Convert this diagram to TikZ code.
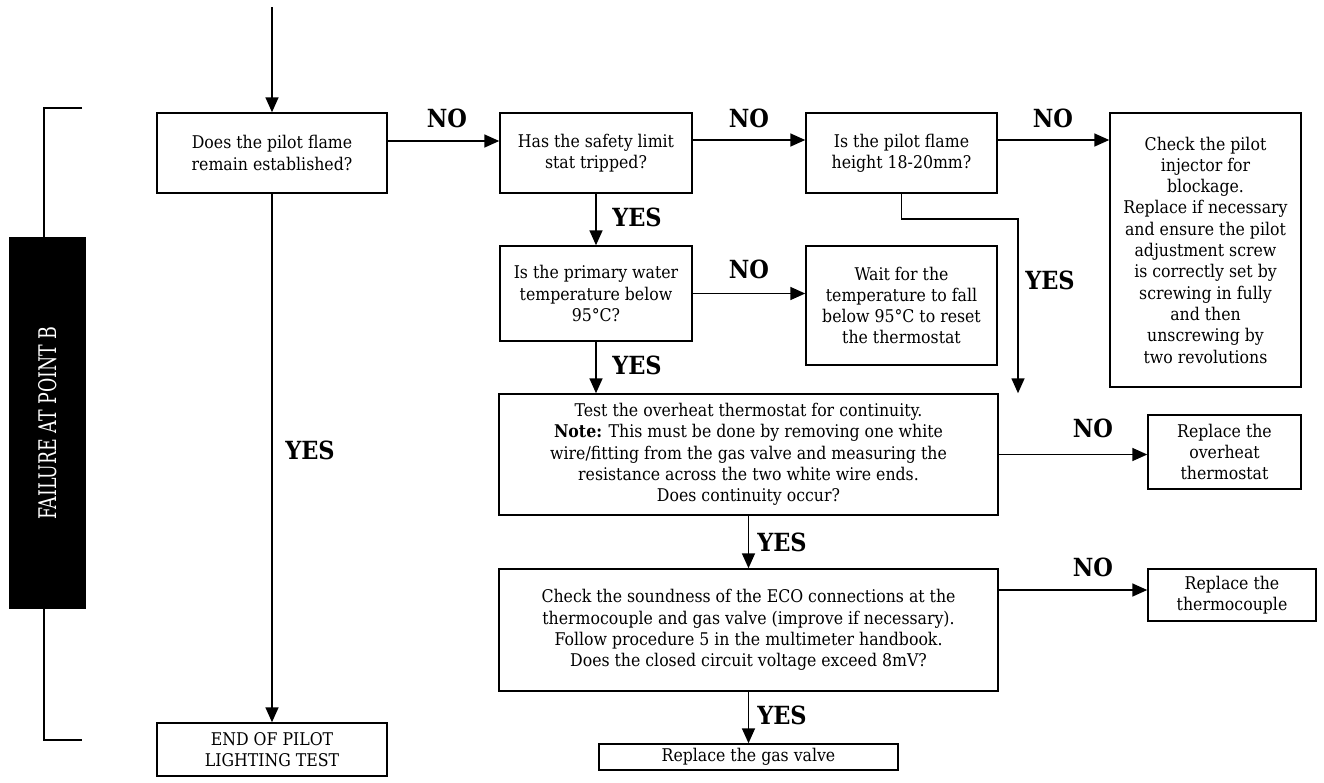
\documentclass[tikz,border=0pt]{standalone}
\usepackage{fontspec}
\setmainfont{DejaVu Serif Condensed}
\usetikzlibrary{arrows.meta}
\newcommand\bodyfs{\fontsize{17.5}{21.3}\selectfont}
\newcommand\lblfs{\fontsize{25}{28}\selectfont\bfseries}
\begin{document}
\begin{tikzpicture}[x=1pt,y=-1pt,
  box/.style={draw, line width=1.5pt, align=center, inner sep=0pt, font=\bodyfs},
  arr/.style={line width=1.7pt, -{Triangle[length=15pt,width=13pt]}},
  lbl/.style={font=\lblfs, inner sep=0pt}]
\useasboundingbox (0,0) rectangle (1324,782);

% bracket and side label
\coordinate (bt) at (82,108);
\coordinate (bb) at (82,740);
\draw[line width=1.5pt] (bt) -- (44,108) -- (44,740) -- (bb);
\node[fill=black, minimum width=77pt, minimum height=372pt, inner sep=0pt] (side) at (47.5,423)
  {\rotatebox{90}{\resizebox{193pt}{18pt}{\color{white}FAILURE AT POINT B}}};

% boxes
\node[box, minimum width=230pt, minimum height=80pt] (A) at (272,153) {Does the pilot flame\\remain established?};
\node[box, minimum width=192pt, minimum height=80pt] (B) at (596,153) {Has the safety limit\\stat tripped?};
\node[box, minimum width=191pt, minimum height=80pt] (C) at (901.5,153) {Is the pilot flame\\height 18-20mm?};
\node[box, minimum width=191pt, minimum height=274pt] (D) at (1205.5,250) {Check the pilot\\injector for\\blockage.\\Replace if necessary\\and ensure the pilot\\adjustment screw\\is correctly set by\\screwing in fully\\and then\\unscrewing by\\two revolutions};
\node[box, minimum width=192pt, minimum height=95pt] (F) at (596,293.5) {Is the primary water\\temperature below\\95°C?};
\node[box, minimum width=191pt, minimum height=119pt] (G) at (901.5,305.5) {Wait for the\\temperature to fall\\below 95°C to reset\\the thermostat};
\node[box, minimum width=499pt, minimum height=121pt] (E) at (748.5,454.5) {Test the overheat thermostat for continuity.\\\textbf{Note:} This must be done by removing one white\\wire/fitting from the gas valve and measuring the\\resistance across the two white wire ends.\\Does continuity occur?};
\node[box, minimum width=153pt, minimum height=74pt] (H) at (1224.5,452) {Replace the\\overheat\\thermostat};
\node[box, minimum width=499pt, minimum height=122pt] (I) at (748.5,630) {Check the soundness of the ECO connections at the\\thermocouple and gas valve (improve if necessary).\\Follow procedure 5 in the multimeter handbook.\\Does the closed circuit voltage exceed 8mV?};
\node[box, minimum width=168pt, minimum height=52pt] (J) at (1232,595) {Replace the\\thermocouple};
\node[box, minimum width=299pt, minimum height=26pt] (K) at (748.5,757) {Replace the gas valve};
\node[box, minimum width=230pt, minimum height=53pt] (L) at (272,749.5) {END OF PILOT\\LIGHTING TEST};

% connectors
\coordinate (top) at (272,7);
\draw[arr] (top) -- (A.north);
\draw[arr] ([yshift=12pt]A.east) -- ([yshift=12pt]B.west);
\draw[arr] ([yshift=13pt]B.east) -- ([yshift=13pt]C.west);
\draw[arr] ([yshift=13pt]C.east) -- ([yshift=13pt]C.east -| D.west);
\draw[arr] (B.south) -- (F.north);
\draw[arr] (F.east) -- (F.east -| G.west);
\draw[arr] (F.south) -- (F.south |- E.north);
\coordinate (c1) at (1018,219);
\draw[arr] (C.south) |- (c1) -- (c1 |- E.north);
\draw[arr] (E.east) -- (E.east -| H.west);
\draw[arr] (E.south) -- (I.north);
\draw[arr] ([yshift=40pt]I.east) -- ([yshift=40pt]I.east -| J.west);
\draw[arr] (I.south) -- (K.north);
\draw[arr] (A.south) -- (L.north);

% labels
\node[lbl] (n1) at (447,118) {NO};
\node[lbl] (n2) at (749,118) {NO};
\node[lbl] (n3) at (1053,118) {NO};
\node[lbl] (n4) at (749,269) {NO};
\node[lbl] (n5) at (1093,428) {NO};
\node[lbl] (n6) at (1093,567) {NO};
\node[lbl] (y1) at (637,217) {YES};
\node[lbl] (y2) at (637,365) {YES};
\node[lbl] (y3) at (1050,280) {YES};
\node[lbl] (y4) at (782,542) {YES};
\node[lbl] (y5) at (782,715) {YES};
\node[lbl] (y6) at (310,450) {YES};
\end{tikzpicture}
\end{document}
